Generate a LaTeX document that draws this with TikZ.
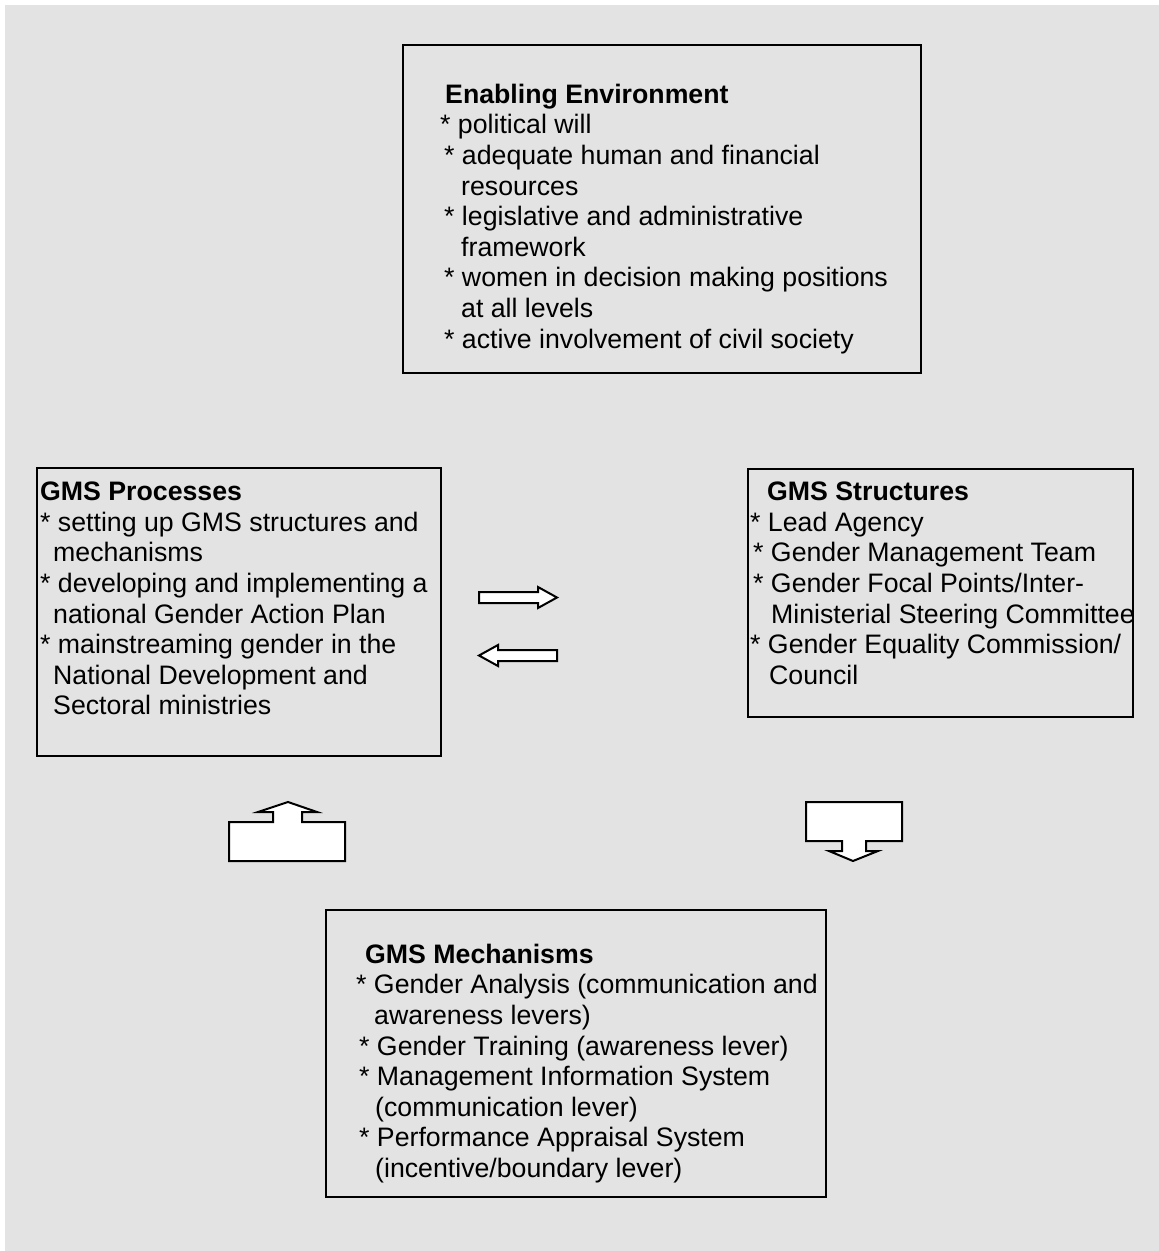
\documentclass[tikz,border=0pt]{standalone}
\usepackage{fontspec}
\setmainfont{Liberation Sans}
\begin{document}
\begin{tikzpicture}[x=1pt,y=-1pt,
  box/.style={draw=black,line width=1.5pt,fill=bggray},
  txt/.style={anchor=base west,inner sep=0pt,font=\fontsize{26.7}{30.7}\selectfont},
  ttl/.style={txt,font=\fontsize{26.7}{30.7}\selectfont\bfseries},
  blockarrow/.style={draw=black,fill=white,line width=2pt,line join=miter}]
\definecolor{bggray}{HTML}{E3E3E3}
\useasboundingbox (0,0) rectangle (1159,1251);
\fill[white] (0,0) rectangle (1159,1251);
\fill[bggray] (5,5) rectangle (1159,1251);

% boxes
\draw[box] (403,45) rectangle (921,373);
\draw[box] (37,468) rectangle (441,756);
\draw[box] (748,469) rectangle (1133,717);
\draw[box] (326,910) rectangle (826,1197);

% Enabling Environment
\node[ttl] (e0) at (445,103) {Enabling Environment};
\node[txt] (e1) at (440,133.8) {* political will};
\node[txt] (e2) at (444,164.4) {* adequate human and financial};
\node[txt] (e3) at (461,195) {resources};
\node[txt] (e4) at (444,225.6) {* legislative and administrative};
\node[txt] (e5) at (461,256.2) {framework};
\node[txt] (e6) at (444,286.8) {* women in decision making positions};
\node[txt] (e7) at (461,317.4) {at all levels};
\node[txt] (e8) at (444,348) {* active involvement of civil society};

% GMS Processes
\node[ttl] (p0) at (40,500.7) {GMS Processes};
\node[txt] (p1) at (40,531.3) {* setting up GMS structures and};
\node[txt] (p2) at (53,561.9) {mechanisms};
\node[txt] (p3) at (40,592.5) {* developing and implementing a};
\node[txt] (p4) at (53,623.1) {national Gender Action Plan};
\node[txt] (p5) at (40,653.7) {* mainstreaming gender in the};
\node[txt] (p6) at (53,684.3) {National Development and};
\node[txt] (p7) at (53,714.9) {Sectoral ministries};

% GMS Structures
\node[ttl] (s0) at (767,500.7) {GMS Structures};
\node[txt] (s1) at (750,531.3) {* Lead Agency};
\node[txt] (s2) at (753,561.9) {* Gender Management Team};
\node[txt] (s3) at (753,592.5) {* Gender Focal Points/Inter-};
\node[txt] (s4) at (771,623.1) {Ministerial Steering Committee};
\node[txt] (s5) at (750,653.7) {* Gender Equality Commission/};
\node[txt] (s6) at (769,684.3) {Council};

% GMS Mechanisms
\node[ttl] (m0) at (365,963) {GMS Mechanisms};
\node[txt] (m1) at (356,993.8) {* Gender Analysis (communication and};
\node[txt] (m2) at (374,1024.4) {awareness levers)};
\node[txt] (m3) at (359,1055) {* Gender Training (awareness lever)};
\node[txt] (m4) at (359,1085.5) {* Management Information System};
\node[txt] (m5) at (375,1116) {(communication lever)};
\node[txt] (m6) at (359,1146.7) {* Performance Appraisal System};
\node[txt] (m7) at (375,1177.3) {(incentive/boundary lever)};

% block arrows
\draw[blockarrow] (479,592) -- (538,592) -- (538,587) -- (557,597.5) -- (538,608) -- (538,603) -- (479,603) -- cycle;
\draw[blockarrow] (557,650) -- (498,650) -- (498,645) -- (479,655.5) -- (498,666) -- (498,661) -- (557,661) -- cycle;
\draw[blockarrow] (229,822) -- (273,822) -- (273,812) -- (258,812) -- (288,802) -- (317,812) -- (302,812) -- (302,822) -- (345,822) -- (345,861) -- (229,861) -- cycle;
\draw[blockarrow] (806,802) -- (902,802) -- (902,841) -- (866,841) -- (866,851) -- (878,851) -- (853,861) -- (829,851) -- (842,851) -- (842,841) -- (806,841) -- cycle;
\end{tikzpicture}
\end{document}
